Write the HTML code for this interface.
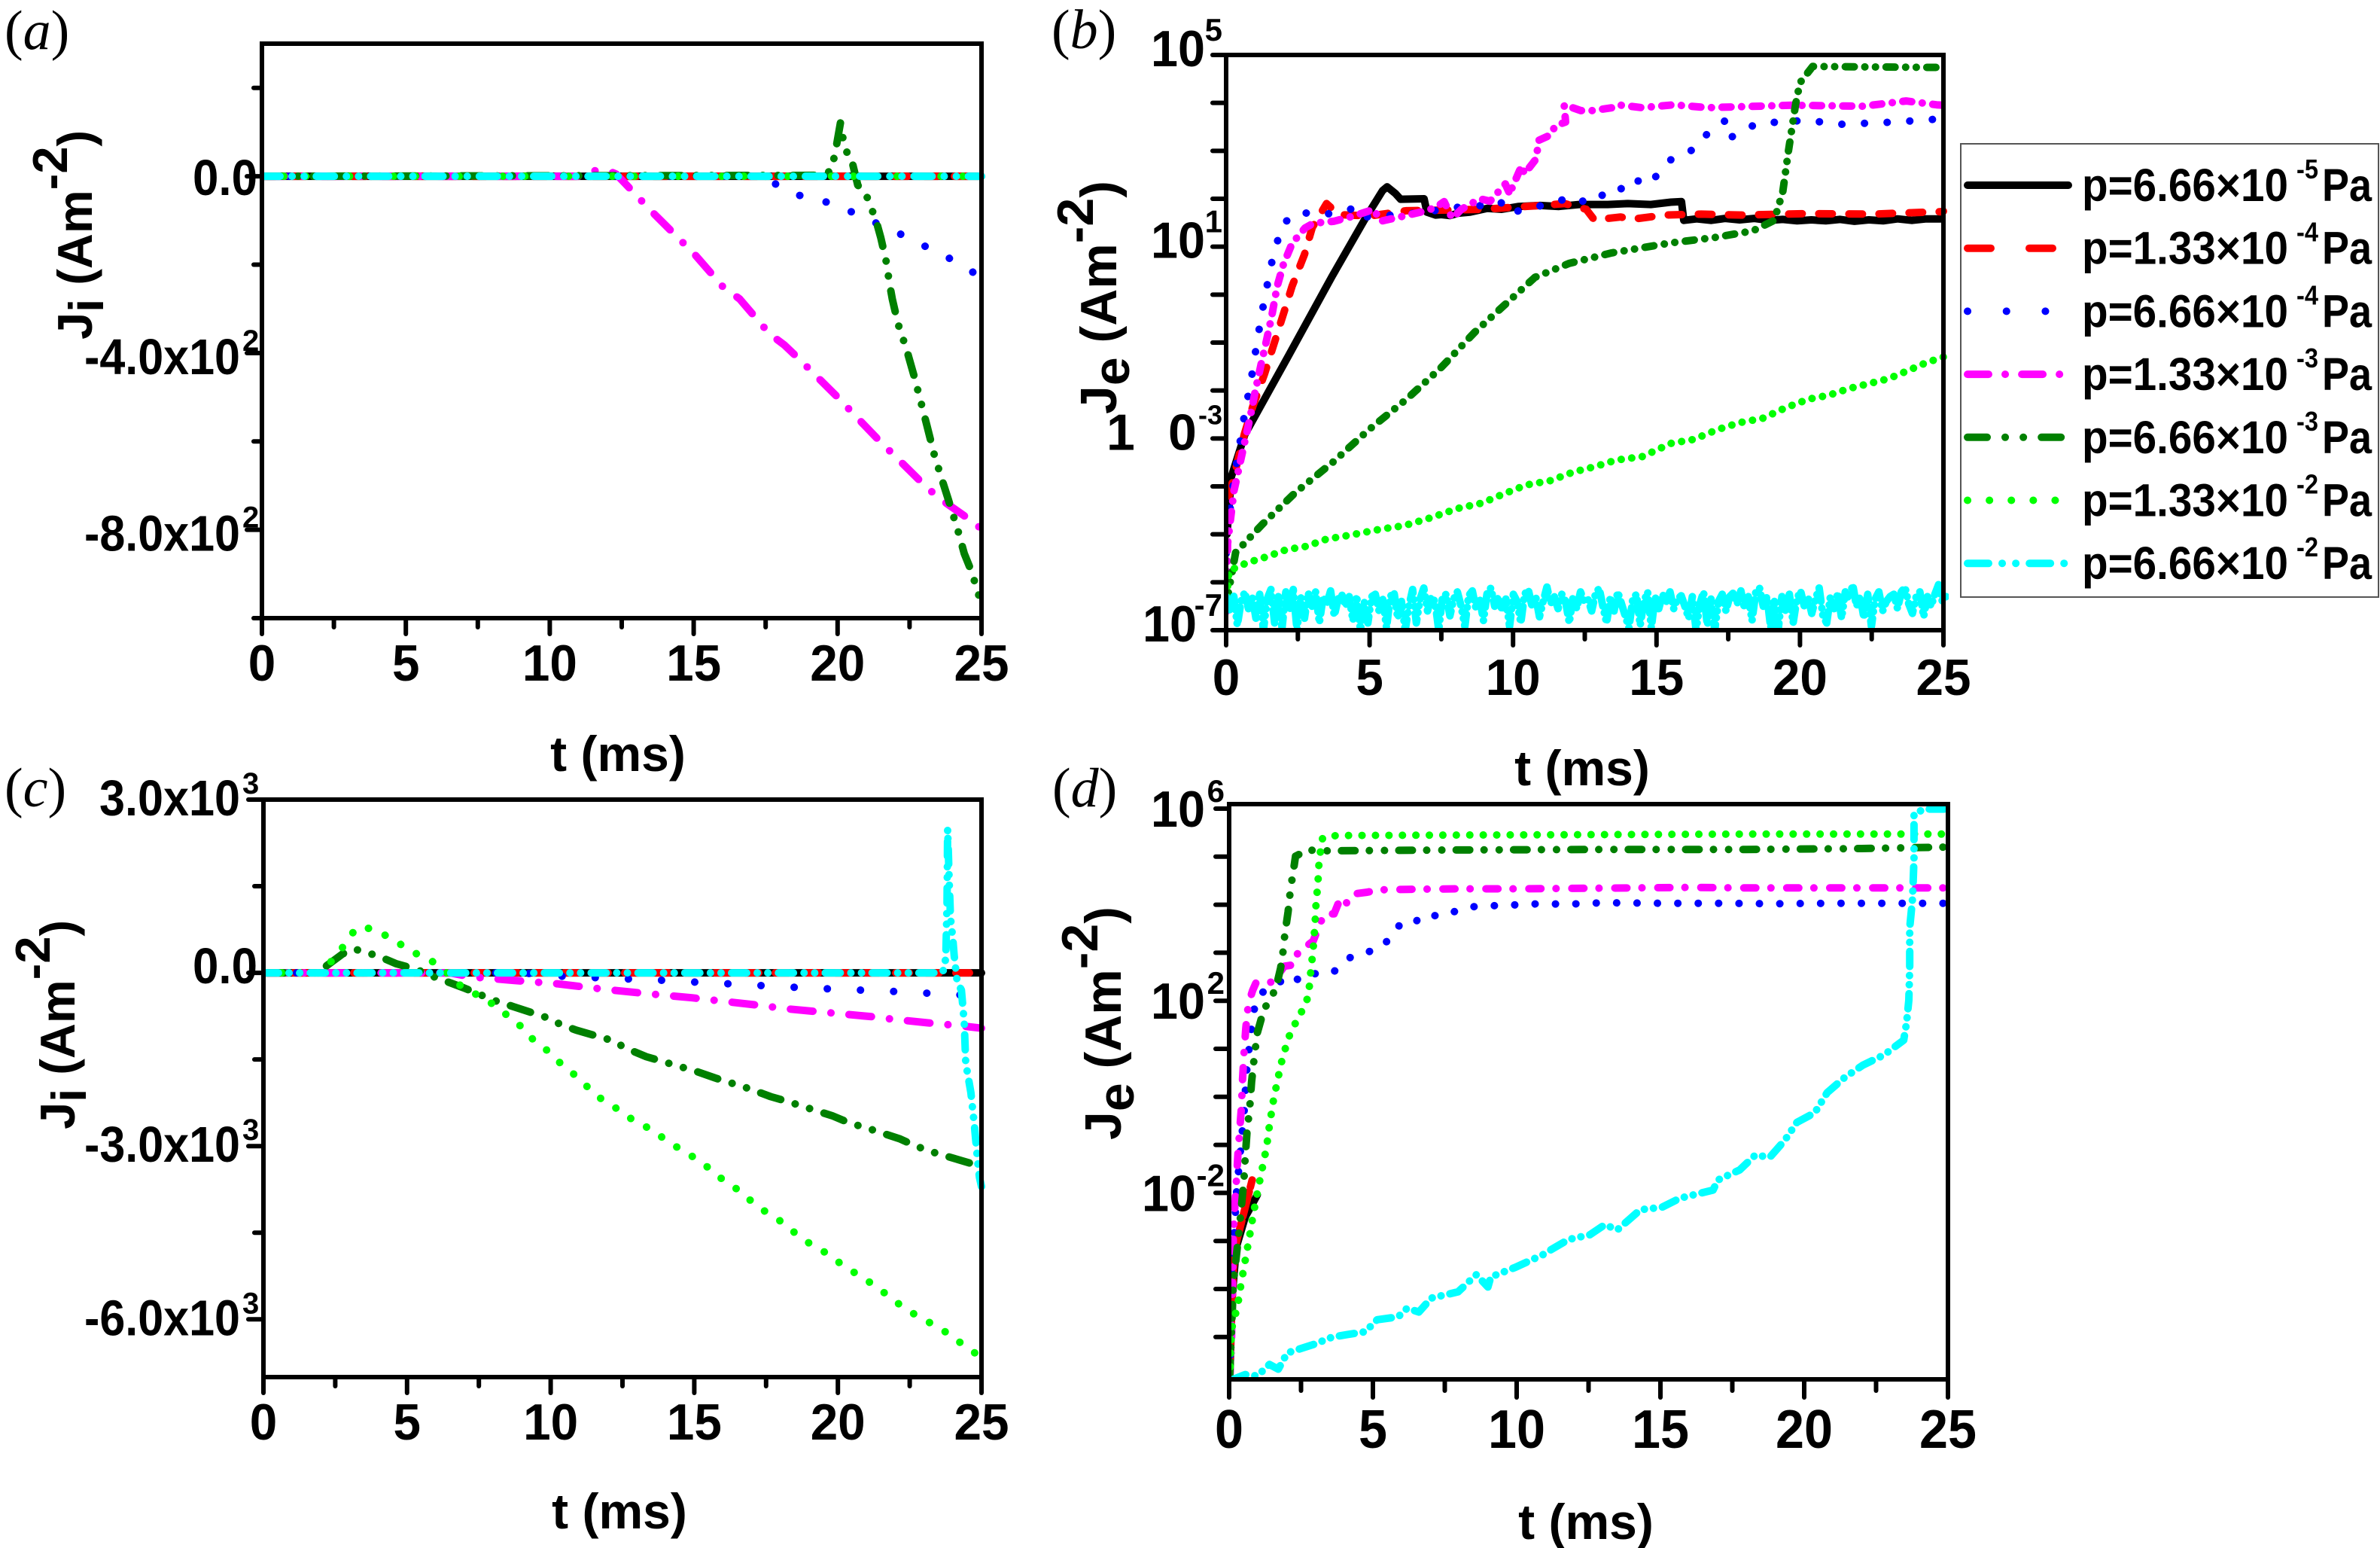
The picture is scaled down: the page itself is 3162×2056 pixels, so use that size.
<!DOCTYPE html>
<html lang="en">
<head>
<meta charset="utf-8">
<title>Ion and electron current density versus time</title>
<style>
html,body{margin:0;padding:0;background:#fff;}
svg{display:block;}
text{font-family:"Liberation Sans",sans-serif;font-weight:bold;fill:#000;}
.panel-tag{font-family:"Liberation Serif",serif;font-weight:normal;}
.panel-tag tspan.letter{font-style:italic;}
</style>
</head>
<body>
<svg id="figure" xmlns="http://www.w3.org/2000/svg" width="3162" height="2056" viewBox="0 0 3162 2056"></svg>
<script>
// ---------- shared tick values ----------
const xMajorTicks = [0, 5, 10, 15, 20, 25];
const xMinorTicks = [2.5, 7.5, 12.5, 17.5, 22.5];
const xTickLabels = ['0', '5', '10', '15', '20', '25'];

// ---------- legend ----------
const seriesNames = ['p-6-66e-5', 'p-1-33e-4', 'p-6-66e-4', 'p-1-33e-3', 'p-6-66e-3', 'p-1-33e-2', 'p-6-66e-2'];
const legendMantissas = ['6.66', '1.33', '6.66', '1.33', '6.66', '1.33', '6.66'];
const legendExponents = ['-5', '-4', '-4', '-3', '-3', '-2', '-2'];

// ---------- panel (a): Ji, linear axis ----------
const aYMajorTicks = [0, -400, -800];
const aYMinorTicks = [200, -200, -600, -1000];
const aYTickMantissas = ['0.0', '-4.0x10', '-8.0x10'];
const aYTickExponents = ['', '2', '2'];
const aFlatT = [0, 25];
const aFlatJ = [0, 0];
const aBlueT = [0, 17.5, 18.13, 19.1, 19.9, 20.9, 21.85, 22.8, 23.76, 24.8, 25];
const aBlueJ = [0, 0, -32, -52, -62, -94, -120, -151, -181, -221, -225];
const aMagentaT = [0, 11, 11.3, 12, 12.3, 12.6, 13.5, 14.5, 15.05, 16, 16.6, 17.64, 18.15, 18.7, 20, 20.5, 21.5, 22.1, 23, 23.5, 24.85, 25];
const aMagentaJ = [0, 0, 12, 13, 5, -15, -77, -142, -178, -249, -278, -357, -382, -416, -500, -534, -602, -640, -698, -727, -789, -800];
const aDarkGreenT = [0, 19.3, 19.75, 19.9, 20.1, 20.2, 20.4, 20.5, 20.7, 21, 21.33, 21.5, 21.7, 21.8, 21.9, 22.1, 22.4, 22.65, 22.85, 23.1, 23.35, 23.6, 23.85, 24.2, 24.4, 24.7, 24.85, 25];
const aDarkGreenJ = [0, 2, 11, 47, 121, 81, 38, 34, -20, -43, -99, -139, -196, -241, -278, -334, -393, -450, -500, -563, -628, -681, -732, -806, -854, -902, -941, -960];

// ---------- panel (b): Je, log axis, values are log10(Je) ----------
const bYMajorExps = [5, 1, -3, -7];
const bYMinorExps = [4, 3, 2, 0, -1, -2, -4, -5, -6];
const bYTickMantissas = ['10', '10', '10', '10'];
const bYTickExponents = ['5', '1', '-3', '-7'];
const bBlackT = [0.03, 0.18, 0.65, 2.17, 3.69, 4.85, 5.45, 5.61, 5.9, 6.08, 6.9, 7, 7.3, 7.5, 7.8, 8.1, 8.5, 9.1, 9.6, 10.2, 10.95, 11.6, 12.3, 13.3, 14, 14.8, 15.5, 15.87, 15.95, 16.4, 16.9, 17.4, 17.9, 18.4, 18.9, 19.4, 19.9, 20.4, 20.9, 21.4, 21.9, 22.4, 22.9, 23.4, 23.9, 24.4, 24.9];
const bBlackLogJ = [-5, -3.8, -2.92, -1.28, 0.38, 1.59, 2.17, 2.25, 2.11, 1.99, 2, 1.72, 1.66, 1.67, 1.65, 1.7, 1.72, 1.8, 1.78, 1.84, 1.86, 1.84, 1.88, 1.88, 1.9, 1.88, 1.93, 1.94, 1.55, 1.58, 1.55, 1.59, 1.56, 1.59, 1.55, 1.57, 1.54, 1.56, 1.54, 1.57, 1.53, 1.56, 1.54, 1.58, 1.55, 1.58, 1.58];
const bRedT = [0.1, 0.64, 0.93, 1.34, 1.64, 2, 2.3, 2.73, 3, 3.5, 3.92, 5, 6.27, 8.95, 10.95, 11.8, 12.55, 12.83, 13.75, 14.1, 15.3, 16.56, 18, 20.3, 22.5, 24.9, 25];
const bRedLogJ = [-4.2, -2.9, -2.33, -1.65, -1.08, -0.4, 0.18, 0.84, 1.4, 1.9, 1.67, 1.64, 1.75, 1.78, 1.86, 1.9, 1.78, 1.56, 1.62, 1.57, 1.66, 1.68, 1.66, 1.69, 1.68, 1.73, 1.74];
const bBlueT = [0, 0.18, 0.62, 0.88, 1.1, 1.34, 1.62, 1.96, 2.54, 3.16, 3.75, 4.1, 4.59, 4.85, 5.56, 6.3, 7.5, 8.16, 8.8, 9.55, 9.85, 10.5, 11.1, 11.56, 12.15, 12.6, 13.1, 13.57, 14, 14.42, 14.84, 15.07, 15.58, 15.78, 16.32, 16.6, 17.03, 17.37, 17.5, 18.5, 20.3, 21.3, 23.3, 24.76, 25];
const bBlueLogJ = [-5.4, -4.2, -2.58, -1.75, -0.9, -0.07, 0.76, 1.47, 1.73, 1.66, 1.7, 1.73, 1.84, 1.62, 1.65, 1.68, 1.77, 1.83, 1.85, 1.95, 1.69, 1.8, 1.87, 1.95, 2.05, 1.89, 2.07, 2.27, 2.14, 2.41, 2.33, 2.56, 2.86, 2.92, 3.03, 3.28, 3.45, 3.62, 3.25, 3.57, 3.64, 3.55, 3.6, 3.66, 3.66];
const bMagentaT = [0.02, 0.05, 0.27, 0.84, 1, 1.23, 1.41, 1.58, 1.78, 1.99, 2.3, 2.75, 3.04, 3.75, 4.45, 5.15, 5.38, 6.2, 6.97, 7.3, 7.6, 7.88, 8.2, 8.84, 9.2, 9.73, 9.9, 9.96, 10.3, 10.4, 10.8, 10.9, 11.3, 11.47, 11.83, 11.78, 12.36, 12.76, 13.47, 13.64, 14.5, 15.6, 16.77, 17.3, 19.7, 22.2, 23.7, 24.76, 25];
const bMagentaLogJ = [-6.6, -5.2, -4.1, -2.55, -2.06, -1.42, -0.95, -0.48, 0.18, 0.62, 1.07, 1.39, 1.49, 1.53, 1.64, 1.78, 1.53, 1.64, 1.75, 1.82, 1.94, 1.59, 1.78, 2, 1.95, 2.31, 2.08, 2.22, 2.69, 2.52, 2.83, 3.22, 3.33, 3.52, 3.6, 3.96, 3.84, 3.84, 3.9, 3.96, 3.9, 3.96, 3.9, 3.91, 3.95, 3.93, 4.04, 3.96, 3.95];
const bDarkGreenT = [0.02, 0.33, 1.28, 2.41, 3.75, 4.95, 6.29, 7.48, 8.67, 9.86, 10.76, 11.95, 13.44, 15.5, 17, 18.35, 19.1, 19.4, 19.6, 19.85, 20, 20.44, 24.9, 25];
const bDarkGreenLogJ = [-6.4, -5.38, -4.78, -4.13, -3.48, -2.83, -2.18, -1.53, -0.78, -0.13, 0.36, 0.65, 0.87, 1.08, 1.19, 1.33, 1.55, 2.14, 3.01, 3.98, 4.42, 4.76, 4.74, 4.74];
const bLimeT = [0.02, 0.1, 0.7, 1.4, 2.1, 2.8, 3.5, 4.3, 5.4, 6.2, 7.1, 8.07, 8.9, 9.7, 10.46, 11.3, 12.1, 12.84, 13.6, 14.5, 15.52, 16.3, 17.1, 17.9, 18.7, 19.5, 20.3, 21, 21.7, 22.38, 23.1, 23.9, 24.4, 24.9, 25];
const bLimeLogJ = [-6.3, -5.76, -5.6, -5.47, -5.32, -5.25, -5.1, -5.02, -4.89, -4.82, -4.66, -4.46, -4.35, -4.15, -3.97, -3.88, -3.7, -3.59, -3.45, -3.38, -3.1, -3.02, -2.82, -2.67, -2.58, -2.36, -2.18, -2.1, -1.96, -1.86, -1.75, -1.55, -1.42, -1.32, -1.3];
const bCyanStep = 0.13;
const bCyanLogJ = [-6.3,-6.6,-6.25,-6.9,-6.4,-6.2,-6.55,-6.3,-6.75,-6.25,-7,-6.35,-6.15,-6.85,-6.3,-6.95,-6.2,-6.6,-6.15,-7,-6.3,-6.75,-6.22,-6.5,-6.2,-6.85,-6.3,-6.45,-6.18,-6.7,-6.35,-6.25,-6.5,-6.3,-6.8,-6.28,-7,-6.4,-6.85,-6.3,-6.25,-6.6,-6.35,-6.95,-6.3,-6.2,-6.75,-6.4,-7,-6.5,-6.15,-6.85,-6.35,-6.12,-6.6,-6.3,-6.4,-7,-6.3,-6.25,-6.7,-6.35,-6.2,-6.5,-6.92,-6.28,-6.18,-6.55,-6.35,-6.8,-6.2,-6.12,-6.5,-6.3,-6.6,-6.35,-6.92,-6.25,-6.4,-6.85,-6.25,-6.15,-6.5,-6.3,-6.72,-6.4,-6.1,-6.45,-6.3,-6.55,-6.25,-6.4,-6.85,-6.3,-6.55,-6.2,-6.4,-6.35,-6.6,-6.25,-6.12,-6.5,-6.85,-6.3,-6.6,-6.2,-6.45,-6.7,-6.95,-6.35,-6.25,-6.9,-6.4,-6.2,-6.95,-6.3,-6.55,-6.25,-6.4,-6.2,-6.55,-6.35,-6.28,-6.5,-6.75,-6.3,-7,-6.45,-6.2,-6.9,-6.35,-7,-6.4,-6.25,-6.6,-6.3,-6.22,-6.45,-6.18,-6.55,-6.3,-6.8,-6.2,-6.12,-6.5,-6.3,-6.95,-6.4,-7,-6.3,-6.6,-6.25,-6.85,-6.35,-6.18,-6.5,-6.3,-6.65,-6.35,-6.12,-6.7,-6.85,-6.3,-6.55,-6.22,-6.75,-6.2,-6.35,-6.05,-6.5,-6.3,-6.75,-6.25,-6.92,-6.35,-6.2,-6.6,-6.4,-6.3,-6.25,-6.55,-6.2,-6.1,-6.45,-6.65,-6.3,-6.2,-6.72,-6.3,-6.5,-6.25,-6.05,-6.4,-6.3];

// ---------- panel (c): Ji, linear axis ----------
const cYMajorTicks = [3000, 0, -3000, -6000];
const cYMinorTicks = [1500, -1500, -4500];
const cYTickMantissas = ['3.0x10', '0.0', '-3.0x10', '-6.0x10'];
const cYTickExponents = ['3', '', '3', '3'];
const cFlatT = [0, 25];
const cFlatJ = [0, 0];
const cBlueT = [0, 9, 10.43, 11.7, 13, 14.36, 15.43, 16.65, 17.77, 18.9, 20.07, 20.5, 21.84, 23.2, 24.53, 25];
const cBlueJ = [0, 0, -60, -86, -112, -138, -173, -199, -233, -259, -285, -294, -320, -354, -389, -400];
const cMagentaT = [0, 6.5, 7.2, 8.7, 10.24, 11.88, 13.4, 14.92, 15.86, 17.26, 18.2, 19.7, 21.2, 21.94, 23.1, 24.27, 24.86, 25];
const cMagentaJ = [0, 0, -69, -130, -190, -285, -363, -432, -484, -562, -622, -691, -760, -804, -864, -916, -950, -960];
const cDarkGreenT = [0, 2, 2.17, 2.76, 3.16, 3.39, 3.98, 4.63, 5.33, 5.8, 6.27, 6.97, 8.02, 8.72, 9.78, 10.38, 10.9, 12.1, 12.7, 13.33, 14.45, 15.04, 15.74, 16.9, 17.66, 18.26, 19.83, 20.4, 21.07, 22.17, 22.75, 23.34, 24.63, 25];
const cDarkGreenJ = [0, 0, 112, 328, 415, 380, 294, 156, 60, -43, -130, -259, -475, -588, -760, -899, -994, -1166, -1322, -1452, -1616, -1702, -1823, -2004, -2143, -2229, -2480, -2600, -2696, -2877, -3007, -3110, -3300, -3350];
const cLimeT = [0, 2, 2.6, 3.23, 3.6, 3.98, 4.75, 5.57, 5.99, 6.38, 6.85, 7.37, 7.97, 8.89, 9.31, 9.78, 10.17, 10.69, 11.25, 11.83, 12.42, 12.98, 13.49, 14.03, 14.47, 14.99, 15.48, 16, 16.63, 17.03, 17.56, 17.96, 18.48, 18.66, 19.13, 19.71, 20.16, 20.67, 21.24, 21.75, 22.24, 22.83, 23.39, 23.95, 24.39, 24.93, 25];
const cLimeJ = [0, 0, 330, 778, 778, 726, 501, 259, 173, 0, -216, -363, -536, -890, -1123, -1296, -1495, -1702, -1961, -2212, -2385, -2592, -2704, -2903, -3041, -3197, -3370, -3586, -3793, -3974, -4165, -4285, -4493, -4562, -4726, -4882, -5063, -5219, -5400, -5590, -5780, -5962, -6108, -6281, -6454, -6636, -6700];
const cCyanT = [0, 23.62, 23.72, 23.76, 23.8, 23.82, 23.88, 23.92, 24, 24.05, 24.15, 24.3, 24.4, 24.45, 24.63, 24.75, 24.87, 24.93, 25];
const cCyanJ = [0, 0, 86, 350, 1200, 2488, 1512, 950, 605, 300, -150, -300, -864, -1555, -2074, -2635, -3283, -3542, -3700];

// ---------- panel (d): Je, log axis, values are log10(Je) ----------
const dYMajorExps = [6, 2, -2];
const dYMinorExps = [5, 4, 3, 1, 0, -1, -3, -4, -5];
const dYTickMantissas = ['10', '10', '10'];
const dYTickExponents = ['6', '2', '-2'];
const dBlackT = [0.02, 0.1, 0.25, 0.56, 0.98];
const dBlackLogJ = [-5.9, -4.2, -3.13, -2.5, -2.04];
const dRedT = [0.02, 0.15, 0.25, 0.56, 0.8];
const dRedLogJ = [-5.6, -3.55, -3.03, -2.3, -1.73];
const dBlueT = [0.02, 0.1, 0.25, 0.52, 0.6, 0.75, 0.93, 1.11, 1.52, 2.13, 2.5, 3.1, 3.63, 4.23, 4.72, 5.35, 5.88, 6.3, 6.74, 7.44, 8.13, 8.79, 9.6, 10.2, 10.95, 11.7, 13, 15, 17, 19, 21, 23, 25];
const dBlueLogJ = [-5.8, -3.75, -2.04, -0.31, 0.48, 1.33, 2.04, 2.16, 2.29, 2.54, 2.4, 2.6, 2.6, 2.91, 2.99, 3.13, 3.56, 3.54, 3.79, 3.76, 3.93, 3.98, 3.98, 4.01, 4.02, 4.01, 4.04, 4.03, 4.03, 4.02, 4.03, 4.03, 4.03];
const dMagentaT = [0.02, 0.08, 0.15, 0.31, 0.43, 0.46, 0.52, 0.58, 0.67, 0.82, 0.93, 1.52, 1.92, 2.26, 2.42, 2.6, 2.92, 3.13, 3.31, 3.65, 3.88, 4.12, 4.41, 4.8, 5.22, 6.2, 8, 10, 12, 14, 16, 18, 20, 22, 25];
const dMagentaLogJ = [-5.9, -5.1, -2.8, -1.16, -0.2, 0.31, 0.94, 1.44, 1.94, 2.22, 2.37, 2.39, 2.72, 2.75, 3.06, 3.1, 3.24, 3.56, 3.81, 3.81, 4.15, 4.02, 4.23, 4.26, 4.31, 4.32, 4.33, 4.33, 4.34, 4.35, 4.36, 4.35, 4.35, 4.35, 4.35];
const dDarkGreenT = [0.02, 0.15, 0.35, 0.52, 0.56, 0.62, 0.72, 0.78, 0.87, 0.98, 1.19, 1.43, 1.61, 1.79, 1.87, 1.94, 2.05, 2.13, 2.24, 2.31, 2.73, 3.22, 8, 13, 18, 22, 25];
const dDarkGreenLogJ = [-5.8, -3.86, -2.77, -1.68, -1.26, -0.74, -0.2, 0.31, 0.8, 1.33, 1.78, 2.07, 2.22, 2.68, 3, 3.4, 3.85, 4.31, 4.73, 5.01, 5.14, 5.12, 5.14, 5.15, 5.15, 5.17, 5.2];
const dLimeT = [0.02, 0.08, 0.29, 0.42, 0.56, 0.7, 0.83, 0.98, 1.13, 1.3, 1.4, 1.53, 1.68, 1.85, 2.07, 2.34, 2.58, 2.76, 2.83, 2.92, 2.98, 3.02, 3.09, 3.13, 3.25, 3.73, 8, 13, 18, 22, 25];
const dLimeLogJ = [-5.9, -4.84, -4.36, -3.88, -3.4, -2.94, -2.48, -2, -1.55, -1.05, -0.6, -0.11, 0.34, 0.8, 1.24, 1.58, 1.84, 2.1, 2.56, 3.05, 3.53, 4, 4.46, 4.94, 5.39, 5.44, 5.45, 5.46, 5.47, 5.47, 5.47];
const dCyanT = [0.1, 0.15, 0.56, 0.98, 1.4, 1.71, 2.02, 2.96, 3.59, 4.1, 4.73, 5.15, 5.88, 6.19, 6.6, 7.03, 7.96, 8.6, 9, 9.1, 9.95, 10.9, 11.2, 11.8, 12.55, 13.07, 13.5, 13.9, 14.3, 15.05, 15.68, 16.83, 17, 17.76, 18.3, 18.8, 19.33, 19.75, 20.37, 20.8, 21.4, 22.04, 22.77, 23.46, 23.56, 23.64, 23.67, 23.67, 23.77, 23.82, 23.82, 24.2, 24.96];
const dCyanLogJ = [-5.9, -5.88, -5.78, -5.81, -5.57, -5.67, -5.33, -5.15, -5, -4.95, -4.89, -4.64, -4.58, -4.4, -4.48, -4.19, -4.06, -3.7, -3.96, -3.75, -3.55, -3.29, -3.18, -2.97, -2.87, -2.66, -2.77, -2.56, -2.35, -2.3, -2.11, -1.94, -1.73, -1.52, -1.21, -1.26, -0.9, -0.53, -0.33, 0.09, 0.4, 0.66, 0.87, 1.18, 1.54, 2.01, 2.69, 3.52, 4.14, 4.97, 5.9, 5.99, 5.99];

// ---------- drawing helpers ----------
const SVG_NS = 'http://www.w3.org/2000/svg';
const figure = document.getElementById('figure');
const COLORS = ['#000000', '#ff0000', '#0000ff', '#ff00ff', '#008000', '#00ff00', '#00ffff'];
const LINE_W = 10;

function svgEl(tag, attrs, parent) {
  const el = document.createElementNS(SVG_NS, tag);
  for (const k in attrs) el.setAttribute(k, attrs[k]);
  parent.appendChild(el);
  return el;
}
function linearAxis(d0, d1, p0, p1) { return v => p0 + (v - d0) / (d1 - d0) * (p1 - p0); }

function drawSeries(group, scaleX, scaleY, clipId, idx, tArr, vArr, dash) {
  const pts = tArr.map((t, i) => scaleX(t).toFixed(1) + ',' + scaleY(vArr[i]).toFixed(1)).join(' ');
  const line = svgEl('polyline', {
    points: pts, fill: 'none', stroke: COLORS[idx], 'stroke-width': LINE_W,
    'stroke-linecap': 'round', 'stroke-linejoin': 'round',
    'stroke-dasharray': dash || 'none', 'clip-path': 'url(#' + clipId + ')'
  }, group);
  
  
}

function drawFrame(group, box) {
  const frame = svgEl('rect', {
    x: box.left, y: box.top, width: box.right - box.left, height: box.bottom - box.top,
    fill: 'none', stroke: '#000', 'stroke-width': 6
  }, group);
  
  
}

function drawTick(group, x1, y1, x2, y2, name) {
  const tick = svgEl('line', { x1: x1, y1: y1, x2: x2, y2: y2, stroke: '#000', 'stroke-width': 6, 'stroke-linecap': 'round' }, group);
  
  
}

function drawXAxis(group, box, scaleX, opts) {
  xMajorTicks.forEach((t, i) => {
    drawTick(group, scaleX(t), box.bottom, scaleX(t), box.bottom + opts.majorLen, 'x-major-tick');
    const label = svgEl('text', {
      x: scaleX(t), y: opts.labelY, 'font-size': opts.fontSize, 'text-anchor': 'middle',
      textLength: xTickLabels[i].length * opts.charWidth, lengthAdjust: 'spacingAndGlyphs'
    }, group);
    label.textContent = xTickLabels[i];
    
    
  });
  xMinorTicks.forEach(t => drawTick(group, scaleX(t), box.bottom, scaleX(t), box.bottom + opts.minorLen, 'x-minor-tick'));
  const title = svgEl('text', { x: opts.titleX, y: opts.titleY, 'font-size': 66, 'text-anchor': 'middle' }, group);
  title.textContent = 't (ms)';
  
  
}

function drawYTicks(group, box, scaleY, major, minor, majorLen, minorLen) {
  major.forEach(v => drawTick(group, box.left - majorLen, scaleY(v), box.left, scaleY(v), 'y-major-tick'));
  minor.forEach(v => drawTick(group, box.left - minorLen, scaleY(v), box.left, scaleY(v), 'y-minor-tick'));
}

function drawYLabel(group, x, y, mantissa, exponent, o) {
  const main = svgEl('text', { y: y, 'font-size': o.size, 'text-anchor': 'end' }, group);
  main.setAttribute('x', x);
  main.textContent = mantissa;
  if (o.length) {
    main.setAttribute('textLength', o.length);
    main.setAttribute('lengthAdjust', 'spacingAndGlyphs');
  }
  
  
  if (exponent) {
    const sup = svgEl('text', { x: o.supX, y: y + o.supDy, 'font-size': o.supSize, 'text-anchor': o.supAnchor || 'start' }, group);
    sup.textContent = exponent;
    
    
  }
}

function drawYTitle(group, baseX, startY, sub, size, subDrop, supRise) {
  const title = svgEl('text', { transform: 'translate(' + baseX + ',' + startY + ') rotate(-90)', 'font-size': size }, group);
  
  
  const parts = [['J', 0], [sub, subDrop], [' (Am', -subDrop], ['-2', -supRise], [')', supRise]];
  parts.forEach(p => {
    const s = svgEl('tspan', { dy: p[1] }, title);
    s.textContent = p[0];
  });
}

function panelTag(group, letter, x, y) {
  const tag = svgEl('text', { x: x, y: y, 'font-size': 74, 'class': 'panel-tag' }, group);
  
  
  const open = svgEl('tspan', {}, tag);
  open.textContent = '(';
  const mid = svgEl('tspan', { 'class': 'letter' }, tag);
  mid.textContent = letter;
  const close = svgEl('tspan', {}, tag);
  close.textContent = ')';
}

function makePanel(name, box) {
  const g = svgEl('g', {}, figure);
  
  
  const clip = svgEl('clipPath', { id: name + '-clip' }, g);
  svgEl('rect', { x: box.left - 3, y: box.top - 3, width: box.right - box.left + 10, height: box.bottom - box.top + 3 }, clip);
  return g;
}

// ---------- panel (a) ----------
(function () {
  const box = { left: 348, right: 1304, top: 58, bottom: 821 };
  const g = makePanel('panel-a', box);
  const X = linearAxis(0, 25, box.left, box.right);
  const Y = linearAxis(300, -1000, box.top, box.bottom);
  const c = 'panel-a-clip';
  drawSeries(g, X, Y, c, 0, aFlatT, aFlatJ);
  drawSeries(g, X, Y, c, 1, aFlatT, aFlatJ, '18 22');
  drawSeries(g, X, Y, c, 2, aBlueT, aBlueJ, '0.1 36');
  drawSeries(g, X, Y, c, 3, aMagentaT, aMagentaJ, '30 24 0.1 24');
  drawSeries(g, X, Y, c, 4, aDarkGreenT, aDarkGreenJ, '28 20 0.1 20 0.1 20');
  drawSeries(g, X, Y, c, 5, aFlatT, aFlatJ, '0.1 29');
  drawSeries(g, X, Y, c, 6, aFlatT, aFlatJ, '24 16 0.1 16 0.1 16');
  drawFrame(g, box);
  drawXAxis(g, box, X, { majorLen: 21, minorLen: 12, labelY: 904, fontSize: 68, charWidth: 36.5, titleX: 821, titleY: 1024 });
  drawYTicks(g, box, Y, aYMajorTicks, aYMinorTicks, 20, 11);
  aYMajorTicks.forEach((v, i) => {
    const hasExp = aYTickExponents[i] !== '';
    drawYLabel(g, hasExp ? 319 : 342, Y(v) + (hasExp ? 28 : 25), aYTickMantissas[i], aYTickExponents[i],
      { size: 67, length: hasExp ? 207 : 86, supX: 322, supDy: -31, supSize: 40 });
  });
  drawYTitle(g, 122, 451, 'i', 65, 15, 33);
  panelTag(g, 'a', 6, 65);
})();

// ---------- panel (b) ----------
(function () {
  const box = { left: 1629, right: 2582, top: 73, bottom: 837 };
  const g = makePanel('panel-b', box);
  const X = linearAxis(0, 25, box.left, box.right);
  const Y = linearAxis(5, -7, box.top, box.bottom);
  const c = 'panel-b-clip';
  const cyanT = bCyanLogJ.map((_, i) => i * bCyanStep);
  drawSeries(g, X, Y, c, 0, bBlackT, bBlackLogJ);
  drawSeries(g, X, Y, c, 1, bRedT, bRedLogJ, '18 22');
  drawSeries(g, X, Y, c, 2, bBlueT, bBlueLogJ, '0.1 30');
  drawSeries(g, X, Y, c, 3, bMagentaT, bMagentaLogJ, '12 14 0.1 14');
  drawSeries(g, X, Y, c, 4, bDarkGreenT, bDarkGreenLogJ, '12 14 0.1 14 0.1 14');
  drawSeries(g, X, Y, c, 5, bLimeT, bLimeLogJ, '0.1 14');
  drawSeries(g, X, Y, c, 6, cyanT, bCyanLogJ, '18 9 0.1 9 0.1 9');
  drawFrame(g, box);
  drawXAxis(g, box, X, { majorLen: 20, minorLen: 12, labelY: 923, fontSize: 68, charWidth: 36.5, titleX: 2102, titleY: 1043 });
  drawYTicks(g, box, Y, bYMajorExps, bYMinorExps, 18, 18);
  bYMajorExps.forEach((v, i) => {
    const exp = bYTickExponents[i];
    const opts = { size: 68, length: 72, supX: 1624, supDy: -34, supSize: 42, supAnchor: 'end' };
    if (exp === '-3') {
      const split = svgEl('text', { y: Y(v) + 15, 'font-size': 68 }, g);
      split.setAttribute('x', '1470 1552');
      split.textContent = bYTickMantissas[i];
      
      
      const sup = svgEl('text', { x: 1624, y: Y(v) - 19, 'font-size': 36, 'text-anchor': 'end' }, g);
      sup.textContent = exp;
      
      
    } else {
      drawYLabel(g, exp === '-7' ? 1590 : 1601, Y(v) + 15, bYTickMantissas[i], exp, opts);
    }
  });
  drawYTitle(g, 1483, 550, 'e', 68, 17, 31);
  panelTag(g, 'b', 1397, 64);
})();

// ---------- panel (c) ----------
(function () {
  const box = { left: 350, right: 1304, top: 1062, bottom: 1829 };
  const g = makePanel('panel-c', box);
  const X = linearAxis(0, 25, box.left, box.right);
  const Y = linearAxis(3000, -7000, box.top, box.bottom);
  const c = 'panel-c-clip';
  drawSeries(g, X, Y, c, 0, cFlatT, cFlatJ);
  drawSeries(g, X, Y, c, 1, cFlatT, cFlatJ, '18 22');
  drawSeries(g, X, Y, c, 2, cBlueT, cBlueJ, '0.1 44');
  drawSeries(g, X, Y, c, 3, cMagentaT, cMagentaJ, '30 24 0.1 24');
  drawSeries(g, X, Y, c, 4, cDarkGreenT, cDarkGreenJ, '28 20 0.1 20 0.1 20');
  drawSeries(g, X, Y, c, 5, cLimeT, cLimeJ, '0.1 24');
  drawSeries(g, X, Y, c, 6, cCyanT, cCyanJ, '20 14 0.1 14 0.1 14');
  drawFrame(g, box);
  drawXAxis(g, box, X, { majorLen: 21, minorLen: 12, labelY: 1912, fontSize: 68, charWidth: 36.5, titleX: 823, titleY: 2030 });
  drawYTicks(g, box, Y, cYMajorTicks, cYMinorTicks, 20, 12);
  cYMajorTicks.forEach((v, i) => {
    const exp = cYTickExponents[i];
    const m = cYTickMantissas[i];
    if (exp === '') {
      drawYLabel(g, 342, Y(v) + 14, m, exp, { size: 67, length: 86 });
    } else {
      drawYLabel(g, 319, Y(v) + 21, m, exp, { size: 67, length: m.charAt(0) === '-' ? 207 : 187, supX: 322, supDy: -29, supSize: 40 });
    }
  });
  drawYTitle(g, 99, 1500, 'i', 65, 15, 33);
  panelTag(g, 'c', 6, 1071);
})();

// ---------- panel (d) ----------
(function () {
  const box = { left: 1633, right: 2588, top: 1068, bottom: 1832 };
  const g = makePanel('panel-d', box);
  const X = linearAxis(0, 25, box.left, box.right);
  const Y = linearAxis(6, -5.9, 1074, 1074 + 11.9 * 63.8);
  const c = 'panel-d-clip';
  drawSeries(g, X, Y, c, 0, dBlackT, dBlackLogJ);
  drawSeries(g, X, Y, c, 1, dRedT, dRedLogJ, '34 6');
  drawSeries(g, X, Y, c, 2, dBlueT, dBlueLogJ, '0.1 27');
  drawSeries(g, X, Y, c, 3, dMagentaT, dMagentaLogJ, '16 20 0.1 21');
  drawSeries(g, X, Y, c, 4, dDarkGreenT, dDarkGreenLogJ, '18 19 0.1 20 0.1 19');
  drawSeries(g, X, Y, c, 5, dLimeT, dLimeLogJ, '0.1 17.8');
  drawSeries(g, X, Y, c, 6, dCyanT, dCyanLogJ, '20 12 0.1 12 0.1 12');
  drawFrame(g, box);
  drawXAxis(g, box, X, { majorLen: 24, minorLen: 15, labelY: 1923, fontSize: 72, charWidth: 38, titleX: 2107, titleY: 2044 });
  drawYTicks(g, box, Y, dYMajorExps, dYMinorExps, 18, 18);
  dYMajorExps.forEach((v, i) => {
    const exp = dYTickExponents[i];
    drawYLabel(g, exp === '-2' ? 1589 : 1601, Y(v) + 24, dYTickMantissas[i], exp,
      { size: 68, length: 72, supX: 1627, supDy: -33, supSize: 42, supAnchor: 'end' });
  });
  drawYTitle(g, 1489, 1514, 'e', 68, 17, 31);
  panelTag(g, 'd', 1398, 1071);
})();

// ---------- legend ----------
(function () {
  const legend = svgEl('g', {}, figure);
  
  
  const frame = svgEl('rect', { x: 2605, y: 191, width: 555, height: 602, fill: '#fff', stroke: '#555', 'stroke-width': 2 }, legend);
  
  
  const dashes = ['none', '31 51', '0.1 51.6', '28 22 0.1 22', '26 24 0.1 24 0.1 24', '0.1 29', '28 18 0.1 18 0.1 18'];
  seriesNames.forEach((s, i) => {
    const rowY = 246 + i * 83.7;
    const sample = svgEl('line', {
      x1: 2614, x2: 2748, y1: rowY, y2: rowY, stroke: COLORS[i], 'stroke-width': LINE_W,
      'stroke-linecap': 'round', 'stroke-dasharray': dashes[i]
    }, legend);
    
    
    const label = svgEl('text', { x: 2766, y: rowY + 21, 'font-size': 61, textLength: 274, lengthAdjust: 'spacingAndGlyphs' }, legend);
    label.textContent = 'p=' + legendMantissas[i] + '\u00d710';
    
    
    const exp = svgEl('text', { x: 3051, y: rowY - 9, 'font-size': 36, textLength: 29, lengthAdjust: 'spacingAndGlyphs' }, legend);
    exp.textContent = legendExponents[i];
    
    
    const unit = svgEl('text', { x: 3085, y: rowY + 21, 'font-size': 61, textLength: 66, lengthAdjust: 'spacingAndGlyphs' }, legend);
    unit.textContent = 'Pa';
    
    
  });
})();
</script>
</body>
</html>
